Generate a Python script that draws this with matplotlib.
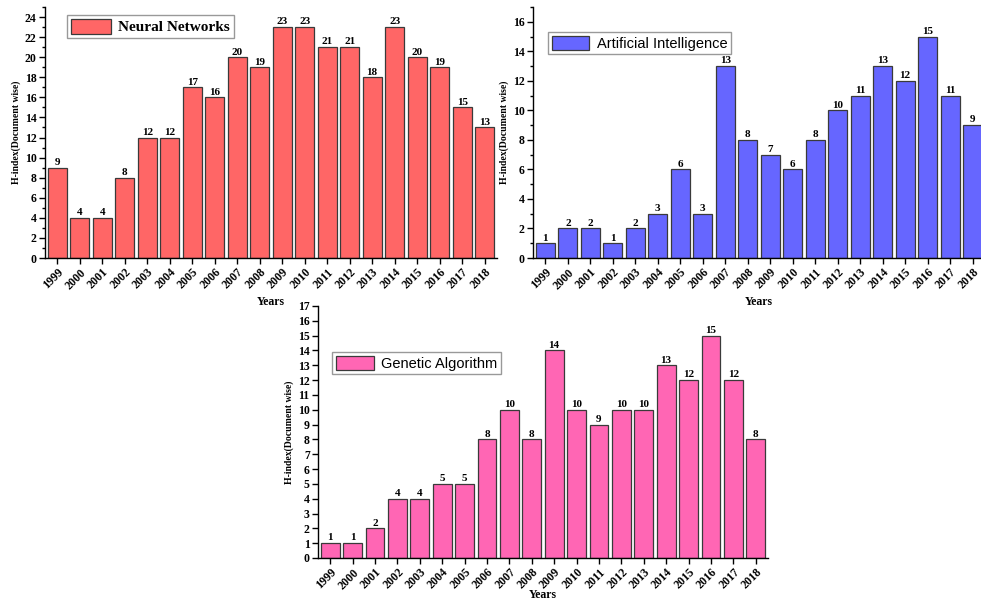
import matplotlib
matplotlib.use("Agg")
import matplotlib.pyplot as plt
from matplotlib.ticker import MultipleLocator
from matplotlib.patches import Patch

plt.rcParams.update({
    "font.family": ["Liberation Serif", "DejaVu Serif"],
    "font.weight": "bold",
    "axes.labelweight": "bold",
    "font.size": 8,
    "axes.linewidth": 1.0,
})

years = [str(y) for y in range(1999, 2019)]
neural_networks = [9, 4, 4, 8, 12, 12, 17, 16, 20, 19, 23, 23, 21, 21, 18, 23, 20, 19, 15, 13]
artificial_intelligence = [1, 2, 2, 1, 2, 3, 6, 3, 13, 8, 7, 6, 8, 10, 11, 13, 12, 15, 11, 9]
genetic_algorithm = [1, 1, 2, 4, 4, 5, 5, 8, 10, 8, 14, 10, 9, 10, 10, 13, 12, 15, 12, 8]

W, H = 981, 601
fig = plt.figure(figsize=(W / 100, H / 100), dpi=100)


def panel(rect, values, color, name, ymax, major, minor, leg_xy, leg_font, xpad=3):
    ax = fig.add_axes(rect)
    x = range(len(values))
    bars = ax.bar(x, values, width=0.84, color=color, edgecolor="#3a3a3a", linewidth=0.9)
    ax.bar_label(bars, labels=[str(v) for v in values], padding=0.5,
                 fontsize=8, fontweight="bold")
    ax.set_xlim(-0.55, len(values) - 0.45)
    ax.set_ylim(0, ymax)
    ax.yaxis.set_major_locator(MultipleLocator(major))
    if minor:
        ax.yaxis.set_minor_locator(MultipleLocator(minor))
    ax.set_xticks(list(x))
    ax.set_xticklabels(years, rotation=45, ha="right", rotation_mode="anchor",
                       fontweight="bold")
    ax.tick_params(axis="both", direction="out", length=4, width=1, labelsize=8.5, pad=2)
    ax.tick_params(axis="y", which="minor", length=2.5, width=1)
    for lbl in ax.get_yticklabels():
        lbl.set_fontweight("bold")
    for s in ("top", "right"):
        ax.spines[s].set_visible(False)
    ax.set_ylabel("H-index(Document wise)", fontsize=7, labelpad=3)
    ax.set_xlabel("Years", fontsize=8.5, labelpad=xpad)
    handle = Patch(facecolor=color, edgecolor="#3a3a3a", linewidth=0.9)
    leg = ax.legend([handle], [name], loc="upper left", bbox_to_anchor=leg_xy,
                    borderaxespad=0, fancybox=False, framealpha=1,
                    handlelength=2.6, handleheight=1.1, borderpad=0.25,
                    handletextpad=0.5, prop=leg_font)
    leg.get_frame().set_edgecolor("#999999")
    leg.get_frame().set_linewidth(1.0)
    return ax


panel([45 / W, 1 - 258 / H, 452 / W, 251 / H], neural_networks, "#ff6666",
      "Neural Networks", 25, 2, 1, (0.049, 0.968),
      {"family": "Liberation Serif", "weight": "bold", "size": 11})
panel([533 / W, 1 - 258 / H, 452 / W, 251 / H], artificial_intelligence, "#6666ff",
      "Artificial Intelligence", 17, 2, 1, (0.033, 0.90),
      {"family": "Liberation Sans", "weight": "normal", "size": 10.5})
panel([318 / W, 1 - 558 / H, 450 / W, 252 / H], genetic_algorithm, "#ff66b4",
      "Genetic Algorithm", 17, 1, None, (0.031, 0.817),
      {"family": "Liberation Sans", "weight": "normal", "size": 10.5}, xpad=-2)

fig.savefig("out.png", dpi=100)
